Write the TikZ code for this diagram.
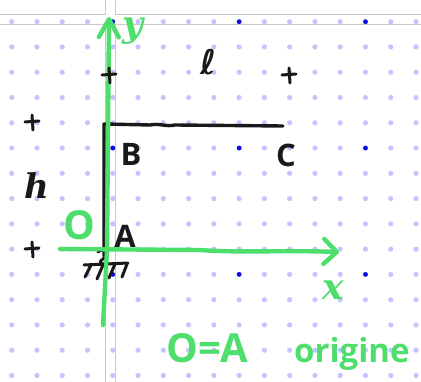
\documentclass[tikz,border=0pt]{standalone}
\usepackage{fontspec}
\setsansfont{Open Sans}
\newfontfamily\letterfont{DejaVu Serif}
\newfontfamily\ellfont{DejaVu Sans}
\usetikzlibrary{arrows.meta}
\definecolor{dotlight}{RGB}{196,196,255}
\definecolor{dotdark}{RGB}{10,10,235}
\definecolor{pen}{RGB}{25,25,25}
\definecolor{marker}{RGB}{78,222,108}
\definecolor{sheet}{RGB}{200,200,200}
\tikzset{
  penline/.style={draw=pen, line width=3.4pt, line cap=round, line join=round},
  axisline/.style={draw=marker, line width=4.4pt, line cap=round, line join=round},
  pentext/.style={text=pen, inner sep=0pt, font=\sffamily\bfseries\fontsize{31}{31}\selectfont},
  greentext/.style={text=marker, inner sep=0pt, font=\sffamily\bfseries\fontsize{40}{40}\selectfont},
  crossmark/.pic={\draw[penline, line width=3pt] (-7,0) -- (7,-1) (0,-7) -- (1,8);}
}
\begin{document}
\begin{tikzpicture}[x=1pt,y=-1pt]
\useasboundingbox (0,0) rectangle (421,382);
\fill[white] (0,0) rectangle (421,382);
% sheet edges
\draw[sheet, line width=0.9pt] (0,14) -- (105,14) -- (105,0)
  (115,0) -- (115,14) -- (421,14)
  (0,24) -- (421,24)
  (105,24) -- (105,382) (115,24) -- (115,382);
% dot grid
\foreach \i in {0,...,16}
  \foreach \j in {0,...,14}
    \fill[dotlight] ({11.7+25.27*\i},{21.7+25.27*\j}) circle (2.6pt);
\foreach \i in {4,9,14}
  \foreach \j in {0,5,10}
    \fill[dotdark] ({11.7+25.27*\i},{21.7+25.27*\j}) circle (2.4pt);
% points of the frame
\coordinate (Aend) at (104,256);
\coordinate (Bpt) at (104,124);
\coordinate (Cpt) at (283,126);
% support hatching
\draw[penline, line width=3pt] (98,252) .. controls (104,247) and (110,254) .. (103,259) .. controls (97,263) and (102,266) .. (108,263);
\draw[penline, line width=3pt] (84,265) -- (128,263)
  (91,265) -- (85,277) (103,265) -- (97,279) (115,264) -- (109,278) (127,264) -- (122,277);
% frame
\draw[penline] (Aend) -- (Bpt) -- (150,125) .. controls (160,123) and (165,127) .. (175,125) -- (Cpt);
% axes
\coordinate (ybot) at (103,325);
\coordinate (ytop) at (109,17);
\coordinate (xleft) at (60,249);
\coordinate (xright) at (339,252);
\draw[axisline, -{Straight Barb[length=18pt,width=20pt,round]}] (ybot) -- (107,250) -- (ytop);
\draw[axisline, -{Straight Barb[length=13pt,width=25pt,round]}] (xleft) -- (200,250) .. controls (240,253) and (280,250) .. (xright);
% plus marks
\pic at (109,75) {crossmark};
\pic at (289,75) {crossmark};
\pic at (32,122) {crossmark};
\pic at (32,249) {crossmark};
% labels
\node[pentext] (lB) at (131,154) {B};
\node[pentext] (lC) at (286,155) {C};
\node[pentext] (lA) at (125,236) {A};
\node[text=pen, inner sep=0pt, font=\ellfont\bfseries\fontsize{34}{34}\selectfont] (lell) at (209,62) {ℓ};
\node[text=pen, inner sep=0pt, font=\letterfont\bfseries\itshape\fontsize{34}{34}\selectfont] (lh) at (37,186) {h};
\node[text=marker, inner sep=0pt, font=\letterfont\bfseries\itshape\fontsize{36}{36}\selectfont] (ly) at (133,31) {y};
\node[text=marker, inner sep=0pt, font=\letterfont\bfseries\itshape\fontsize{36}{36}\selectfont] (lx) at (333,290) {x};
\node[greentext] (lO) at (79,225) {O};
\node[greentext, anchor=base west] (lOA) at (166,363) {O=A};
\node[greentext, anchor=base west, font=\sffamily\bfseries\fontsize{33}{33}\selectfont] (lorig) at (294,363) {origine};
\end{tikzpicture}
\end{document}
